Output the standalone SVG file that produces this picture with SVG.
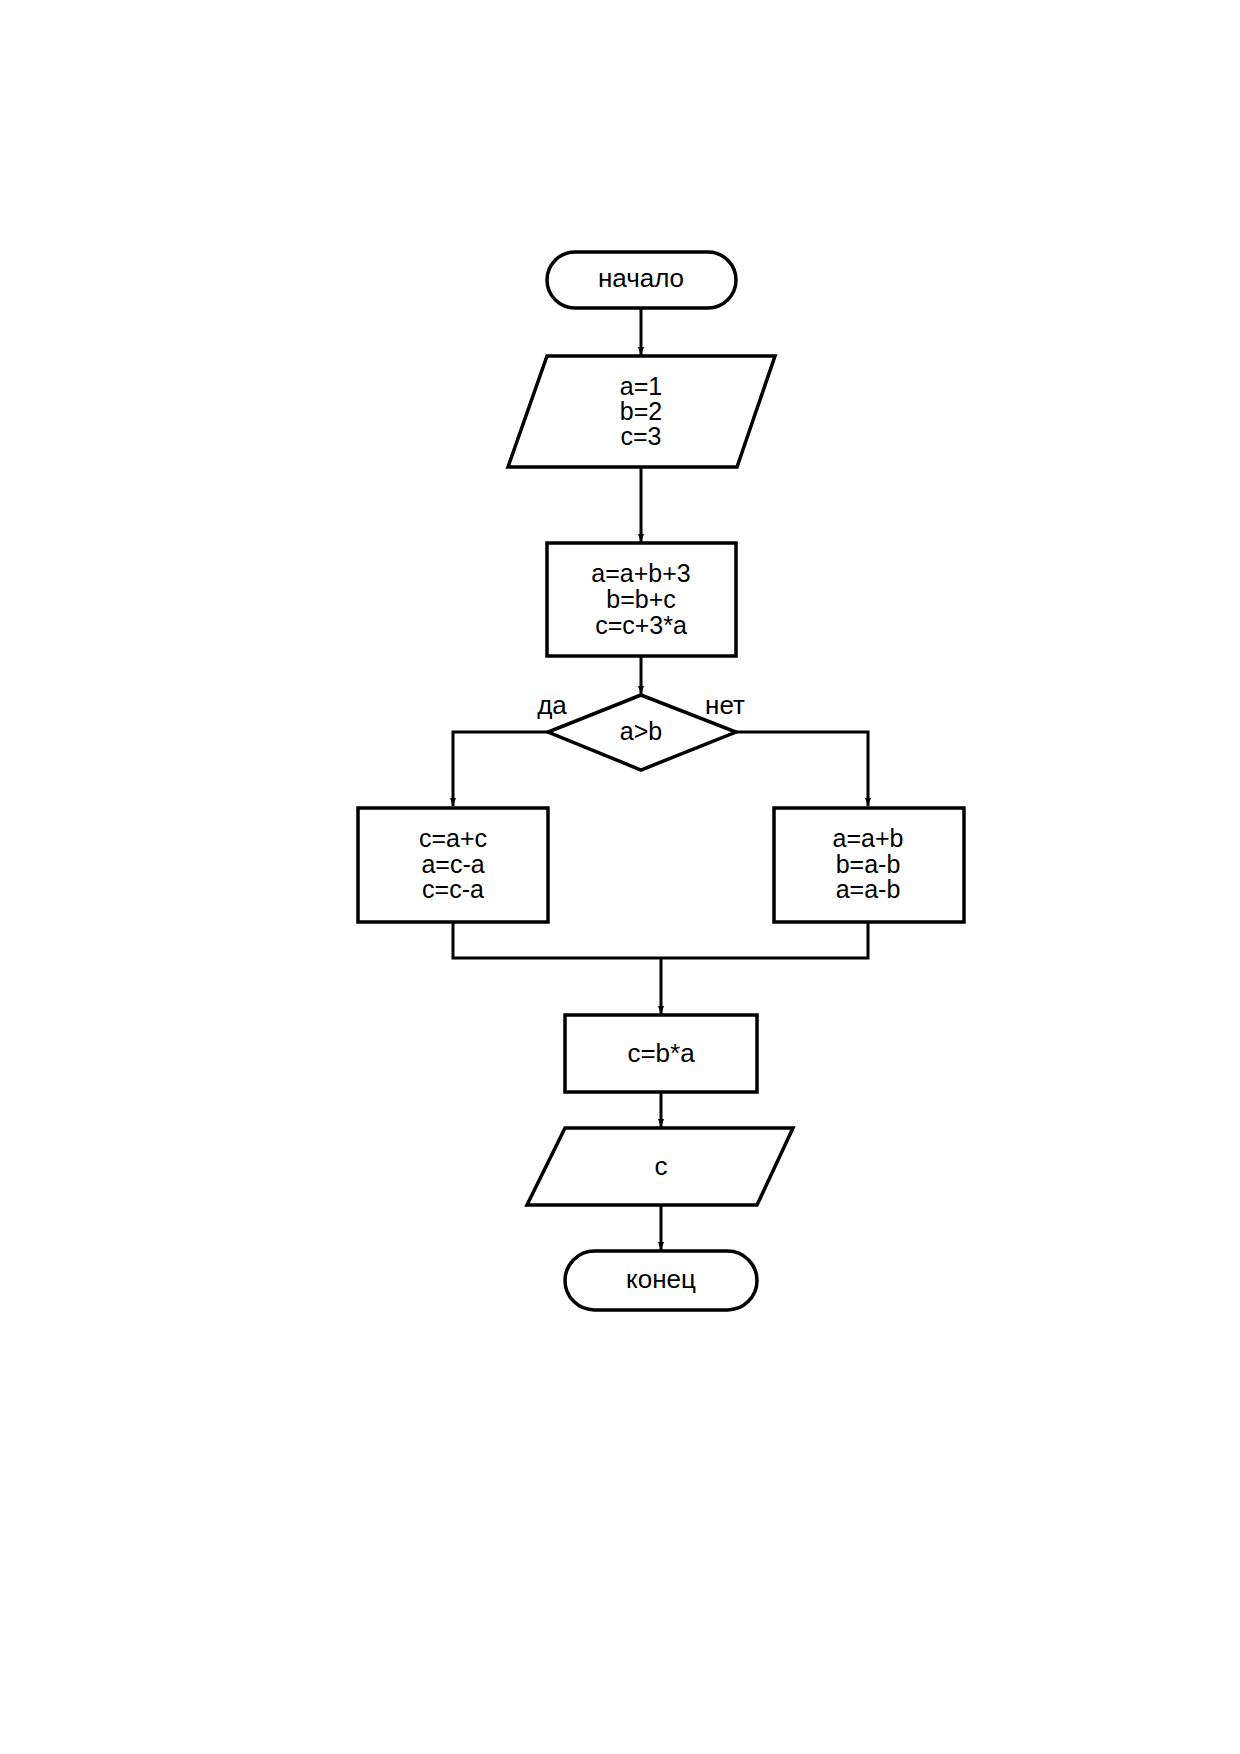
<svg xmlns="http://www.w3.org/2000/svg" width="1240" height="1754" viewBox="0 0 1240 1754">
<style>
.s{fill:#fff;stroke:#000;stroke-width:3.5}
.c{fill:none;stroke:#000;stroke-width:3}
.t{font-family:"Liberation Sans",Arial,sans-serif;font-size:26px;text-anchor:middle;fill:#000}
.m{font-family:"Liberation Sans",Arial,sans-serif;font-size:25px;text-anchor:middle;fill:#000}
</style>
<defs>
<marker id="ah" viewBox="0 0 8 8" refX="8" refY="4" markerWidth="8" markerHeight="8" markerUnits="userSpaceOnUse" orient="auto">
<path d="M0,1 L8,4 L0,7 Z" fill="#000"/>
</marker>
</defs>
<rect width="1240" height="1754" fill="#fff"/>
<g id="connectors">
<line class="c" x1="641" y1="308" x2="641" y2="355" marker-end="url(#ah)"/>
<line class="c" x1="641" y1="467" x2="641" y2="542" marker-end="url(#ah)"/>
<line class="c" x1="641" y1="656" x2="641" y2="694" marker-end="url(#ah)"/>
<polyline class="c" points="548,732 453,732 453,806" marker-end="url(#ah)"/>
<polyline class="c" points="736,732 868,732 868,806" marker-end="url(#ah)"/>
<polyline class="c" points="453,922 453,958 868,958 868,922"/>
<line class="c" x1="661" y1="958" x2="661" y2="1014" marker-end="url(#ah)"/>
<line class="c" x1="661" y1="1092" x2="661" y2="1127" marker-end="url(#ah)"/>
<line class="c" x1="661" y1="1205" x2="661" y2="1250" marker-end="url(#ah)"/>
</g>
<g id="start">
<rect class="s" x="547" y="252" width="189" height="56" rx="28" ry="28"/>
<text class="t" x="641" y="287">начало</text>
</g>
<g id="input">
<polygon class="s" points="547,356 775,356 737,467 508,467"/>
<text class="m"><tspan x="641" y="395">a=1</tspan><tspan x="641" y="420">b=2</tspan><tspan x="641" y="445">c=3</tspan></text>
</g>
<g id="process1">
<rect class="s" x="547" y="543" width="189" height="113"/>
<text class="m"><tspan x="641" y="582">a=a+b+3</tspan><tspan x="641" y="608">b=b+c</tspan><tspan x="641" y="634">c=c+3*a</tspan></text>
</g>
<g id="decision">
<polygon class="s" points="641,695 736,732 641,770 548,732"/>
<text class="m" x="641" y="740">a&gt;b</text>
<text class="t" x="552" y="714">да</text>
<text class="t" x="725" y="714">нет</text>
</g>
<g id="yes-branch">
<rect class="s" x="358" y="808" width="190" height="114"/>
<text class="m"><tspan x="453" y="847">c=a+c</tspan><tspan x="453" y="873">a=c-a</tspan><tspan x="453" y="898">c=c-a</tspan></text>
</g>
<g id="no-branch">
<rect class="s" x="774" y="808" width="190" height="114"/>
<text class="m"><tspan x="868" y="847">a=a+b</tspan><tspan x="868" y="873">b=a-b</tspan><tspan x="868" y="898">a=a-b</tspan></text>
</g>
<g id="process2">
<rect class="s" x="565" y="1015" width="192" height="77"/>
<text class="t" x="661" y="1062">c=b*a</text>
</g>
<g id="output">
<polygon class="s" points="565,1128 793,1128 757,1205 527,1205"/>
<text class="t" x="661" y="1175">c</text>
</g>
<g id="end">
<rect class="s" x="565" y="1251" width="192" height="59" rx="29.5" ry="29.5"/>
<text class="t" x="661" y="1288">конец</text>
</g>
</svg>
